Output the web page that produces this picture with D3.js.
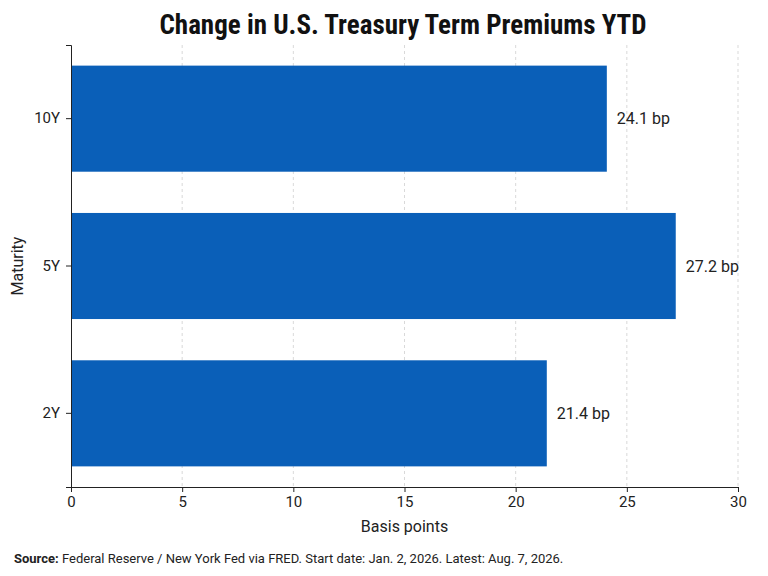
<!DOCTYPE html>
<html><head><meta charset="utf-8">
<script src="https://cdn.jsdelivr.net/npm/d3@7"></script>
<style>body{margin:0;background:#fff}text{font-family:Roboto,"Liberation Sans",sans-serif}</style>
</head><body><svg id="c" width="768" height="576"></svg>
<script>
var maturities = ["10Y", "5Y", "2Y"]
var changes = [24.1, 27.2, 21.4]
var ticks = [0, 5, 10, 15, 20, 25, 30]

var svg = d3.select("#c")
var m = {l: 71, r: 30, t: 45, b: 89}
var w = 768 - m.l - m.r, h = 576 - m.t - m.b

var x = d3.scaleLinear().domain([0, 30]).range([0, w])
var y = d3.scaleBand().domain(maturities).range([0, h]).paddingInner(0.28).paddingOuter(0.14)

var g = svg.append("g").attr("transform", `translate(${m.l},${m.t})`)

g.selectAll(".grid").data(ticks.slice(1)).enter().append("line")
    .attr("x1", d => x(d)).attr("x2", d => x(d)).attr("y1", 0).attr("y2", h)
    .attr("stroke", "#cfcfcf").attr("stroke-dasharray", "3,3").attr("stroke-width", 0.8)

g.selectAll(".bar").data(maturities).enter().append("rect")
    .attr("x", 0).attr("y", d => y(d))
    .attr("width", (d, i) => x(changes[i])).attr("height", y.bandwidth())
    .attr("fill", "#0a5fb8")

g.selectAll(".lbl").data(maturities).enter().append("text")
    .attr("x", (d, i) => x(changes[i]) + 10).attr("y", d => y(d) + y.bandwidth() / 2)
    .attr("dy", "0.35em").attr("font-size", 16).attr("fill", "#222")
    .text((d, i) => changes[i].toFixed(1) + " bp")

var xa = g.append("g").attr("transform", `translate(0,${h})`)
    .call(d3.axisBottom(x).tickValues(ticks).tickSize(5).tickPadding(4))
var ya = g.append("g").call(d3.axisLeft(y).tickSize(5).tickPadding(6))
;[xa, ya].forEach(a => {
    a.selectAll("text").attr("font-size", 15).attr("fill", "#222").style("font-family", "Roboto,sans-serif")
    a.select(".domain").attr("stroke", "#222")
    a.selectAll(".tick line").attr("stroke", "#222")
})

svg.append("text").attr("x", 403).attr("y", 34).attr("text-anchor", "middle")
    .attr("font-size", 27).attr("font-weight", "bold").attr("fill", "#111")
    .style("font-family", "'Liberation Sans Narrow','Roboto Condensed',Roboto,sans-serif")
    .text("Change in U.S. Treasury Term Premiums YTD")

svg.append("text").attr("x", m.l + w / 2).attr("y", 532).attr("text-anchor", "middle")
    .attr("font-size", 16).attr("fill", "#222").text("Basis points")

svg.append("text").attr("transform", `translate(23,${m.t + h / 2}) rotate(-90)`)
    .attr("text-anchor", "middle").attr("font-size", 16).attr("fill", "#222").text("Maturity")

var src = svg.append("text").attr("x", 14).attr("y", 563).attr("font-size", 13).attr("fill", "#222")
src.append("tspan").attr("font-weight", "bold").text("Source:")
src.append("tspan").text(" Federal Reserve / New York Fed via FRED. Start date: Jan. 2, 2026. Latest: Aug. 7, 2026.")
</script></body></html>
